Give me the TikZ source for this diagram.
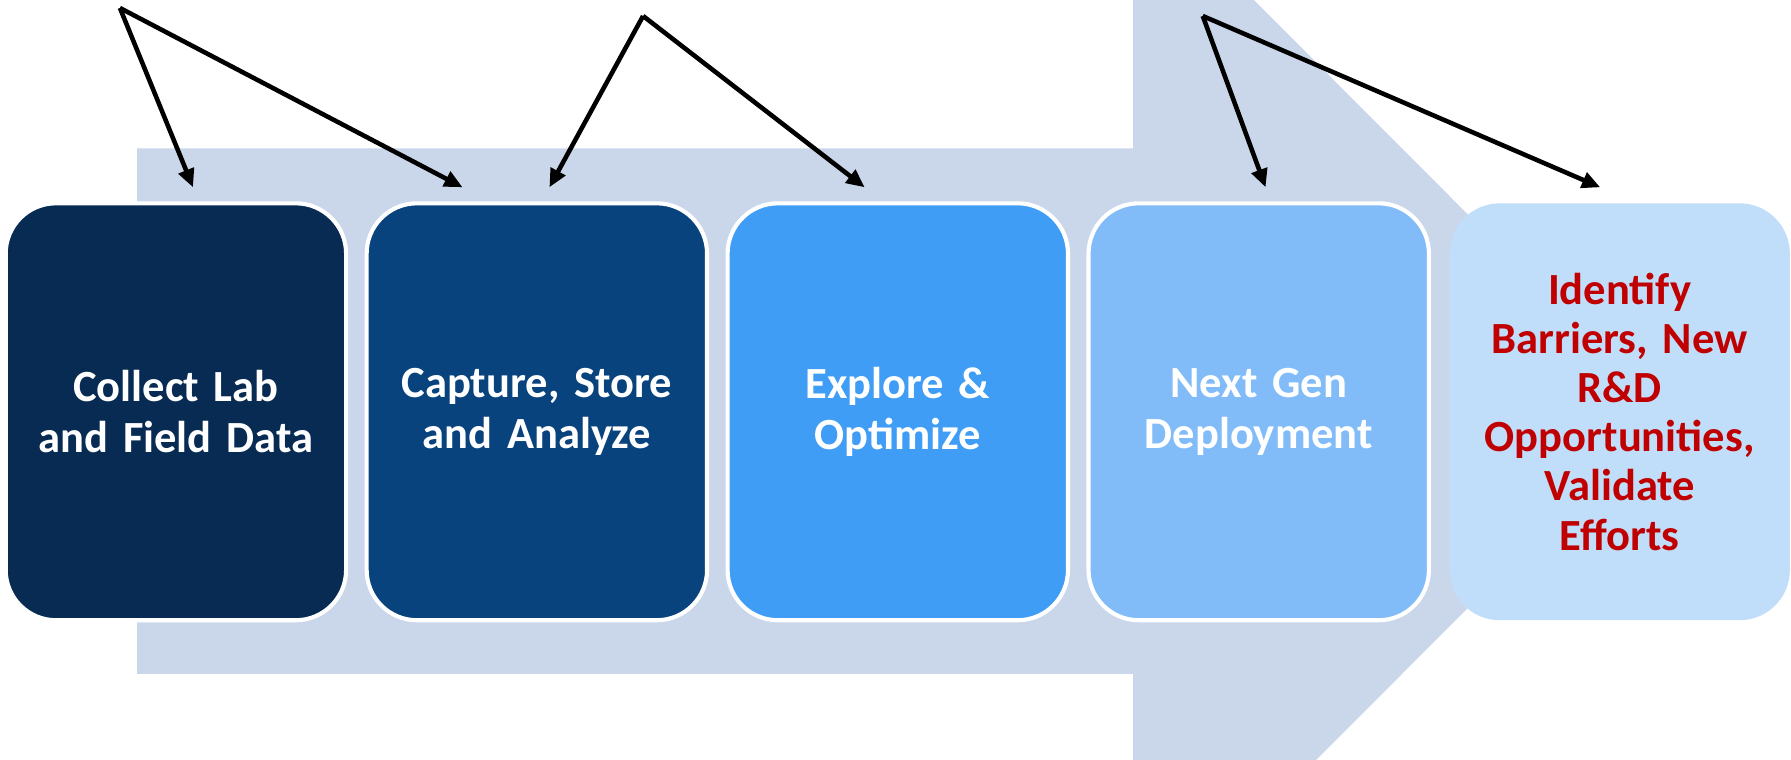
\documentclass[tikz,border=0pt]{standalone}
\usepackage{fontspec}
\setmainfont{Carlito}
\usetikzlibrary{arrows.meta}
\definecolor{bgarrow}{HTML}{CAD7EA}
\definecolor{boxA}{HTML}{072B52}
\definecolor{boxB}{HTML}{08437E}
\definecolor{boxC}{HTML}{409DF5}
\definecolor{boxD}{HTML}{81BCF9}
\definecolor{boxE}{HTML}{C0DEFA}
\definecolor{redtext}{HTML}{C00000}
\tikzset{
  stagebox/.style={rounded corners=22pt, minimum width=149pt, minimum height=182.5pt,
    inner sep=0pt, draw=white, line width=1.8pt, align=center, text width=140pt,
    font=\fontsize{19.5pt}{22.5pt}\selectfont\bfseries, text=white},
  lastbox/.style={stagebox, draw=none, text=redtext, font=\fontsize{19.5pt}{21.5pt}\selectfont\bfseries},
  pointer/.style={line width=2pt, draw=black, -{Triangle[length=8pt,width=7pt]}}
}
\begin{document}
\begin{tikzpicture}[x=0.5pt,y=0.5pt]
\useasboundingbox (0,0) rectangle (1568,665);
\begin{scope}
\clip (0,0) rectangle (1568,665);
\fill[bgarrow] (120,535) -- (992,535) -- (992,771) -- (1457,305) -- (992,-161) -- (992,75) -- (120,75) -- cycle;
\end{scope}
\node[stagebox, fill=boxA] (s1) at (154,304.5) {Collect Lab\\and Field Data};
\node[stagebox, fill=boxB] (s2) at (470,304.5) {Capture, Store\\and Analyze};
\node[stagebox, fill=boxC] (s3) at (786,304.5) {Explore \&\\Optimize};
\node[stagebox, fill=boxD] (s4) at (1102,304.5) {Next Gen\\Deployment};
\node[lastbox, fill=boxE] (s5) at (1418,304.5) {Identify\\Barriers, New\\R\&D\\Opportunities,\\Validate\\Efforts};
\coordinate (o1) at (105,658);
\coordinate (o2) at (563,651);
\coordinate (o3) at (1053,651);
\coordinate (t1a) at (169,501);
\coordinate (t1b) at (405,501);
\coordinate (t2a) at (481,501);
\coordinate (t2b) at (757,501);
\coordinate (t3a) at (1108,501);
\coordinate (t3b) at (1401,501);
\draw[pointer] (o1) -- (t1a);
\draw[pointer] (o1) -- (t1b);
\draw[pointer] (o2) -- (t2a);
\draw[pointer] (o2) -- (t2b);
\draw[pointer] (o3) -- (t3a);
\draw[pointer] (o3) -- (t3b);
\end{tikzpicture}
\end{document}
